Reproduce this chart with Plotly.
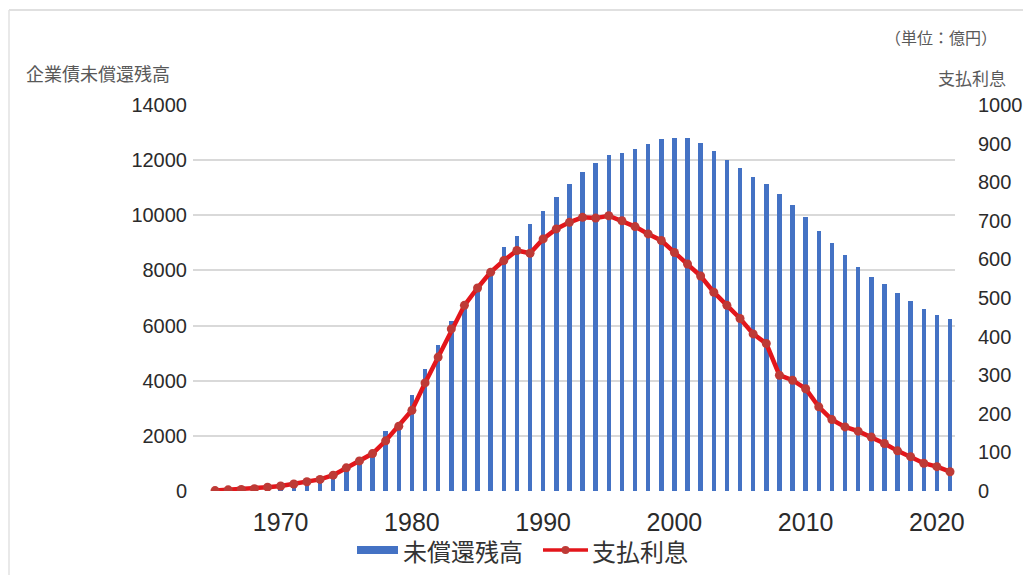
import plotly.graph_objects as go

years = list(range(1965, 2022))

# 未償還残高 (億円) - left axis
balance = [20, 40, 60, 80, 110, 150, 210, 300, 400, 640,
           830, 1080, 1370, 2170, 2500, 3470, 4440, 5300, 6180, 6790,
           7450, 8000, 8840, 9260, 9700, 10160, 10650, 11150, 11580, 11910,
           12170, 12260, 12400, 12600, 12750, 12800, 12820, 12630, 12330, 12000,
           11710, 11390, 11150, 10790, 10380, 9920, 9430, 9000, 8550, 8140,
           7750, 7490, 7170, 6900, 6610, 6370, 6250]

# 支払利息 (億円) - right axis
interest = [1, 3, 4, 6, 10, 13, 18, 24, 30, 41,
            60, 78, 97, 130, 168, 209, 280, 347, 420, 481,
            526, 567, 597, 623, 616, 653, 679, 696, 709, 707,
            713, 700, 685, 666, 649, 618, 588, 557, 515, 481,
            447, 407, 382, 300, 287, 265, 218, 185, 166, 155,
            140, 123, 104, 89, 72, 63, 50]

left_ticks = list(range(0, 14001, 2000))
right_ticks = list(range(0, 1001, 100))
x_ticks = [1970, 1980, 1990, 2000, 2010, 2020]

series_names = ["未償還残高", "支払利息"]
BLUE = "#4472C4"
RED = "#E3161B"
MRED = "#BE3A36"

JP = "Noto Sans CJK JP"
NUM = "Liberation Sans"
TICK_COLOR = "#2B2B2B"

# page body has an 8px margin: design in window pixels, shift by OFF
OFF = 8
W, H = 1031 - OFF, 575 - OFF
L, R, T, B = 193 - OFF, 1031 - 955, 105 - OFF, 575 - 491
pw, ph = W - L - R, H - T - B


def px(x):
    return (x - OFF - L) / pw


def py(y):
    return (H - B - (y - OFF)) / ph


fig = go.Figure()
fig.add_trace(go.Bar(
    x=years, y=balance, name=series_names[0],
    marker=dict(color=BLUE, line=dict(width=0)),
    width=0.34, yaxis="y", showlegend=False,
))
fig.add_trace(go.Scatter(
    x=years, y=interest, name=series_names[1], mode="lines+markers",
    line=dict(color=RED, width=4.5),
    marker=dict(color=MRED, size=9, symbol="circle"),
    yaxis="y2", showlegend=False,
))

legend_shapes = [
    dict(type="rect", xref="paper", yref="paper",
         x0=px(357), x1=px(398), y0=py(554), y1=py(546),
         fillcolor=BLUE, line=dict(width=0)),
    dict(type="line", xref="paper", yref="paper",
         x0=px(543), x1=px(588), y0=py(550), y1=py(550),
         line=dict(color=RED, width=3.5)),
    dict(type="circle", xref="paper", yref="paper",
         x0=px(561.5), x1=px(569.5), y0=py(554), y1=py(546),
         fillcolor=MRED, line=dict(width=0)),
]

fig.update_layout(
    width=W, height=H,
    margin=dict(l=L, r=R, t=T, b=B, autoexpand=False),
    paper_bgcolor="white", plot_bgcolor="white",
    bargap=0,
    showlegend=False,
    xaxis=dict(range=[1963.32, 2021.38], tickmode="array", tickvals=x_ticks,
               ticktext=[str(v) for v in x_ticks], showgrid=False,
               zeroline=False, showline=False, ticks="",
               ticklabelstandoff=14,
               tickfont=dict(family=NUM, size=25, color=TICK_COLOR)),
    yaxis=dict(range=[0, 14000], tickmode="array", tickvals=left_ticks,
               ticktext=[str(v) for v in left_ticks],
               showgrid=True, gridcolor="#D9D9D9", gridwidth=1.6,
               zeroline=False, showline=False, ticks="",
               ticklabelstandoff=5,
               tickfont=dict(family=NUM, size=20, color=TICK_COLOR)),
    yaxis2=dict(range=[0, 1000], overlaying="y", side="right",
                tickmode="array", tickvals=right_ticks,
                ticktext=[str(v) for v in right_ticks],
                showgrid=False, zeroline=False, showline=False, ticks="",
                ticklabelstandoff=22,
                tickfont=dict(family=NUM, size=20, color=TICK_COLOR)),
    annotations=[
        dict(text="企業債未償還残高", xref="paper", yref="paper",
             x=px(24), y=py(73), xanchor="left", yanchor="middle",
             showarrow=False, font=dict(family=JP, size=18, color="#595959")),
        dict(text="（単位：億円）", xref="paper", yref="paper",
             x=px(999), y=py(37), xanchor="right", yanchor="middle",
             showarrow=False, font=dict(family=JP, size=16, color="#595959")),
        dict(text="支払利息", xref="paper", yref="paper",
             x=px(1008), y=py(78), xanchor="right", yanchor="middle",
             showarrow=False, font=dict(family=JP, size=17, color="#595959")),
        dict(text=series_names[0], xref="paper", yref="paper",
             x=px(401), y=py(550), xanchor="left", yanchor="middle",
             showarrow=False, font=dict(family=JP, size=24, color="#333333")),
        dict(text=series_names[1], xref="paper", yref="paper",
             x=px(590), y=py(550), xanchor="left", yanchor="middle",
             showarrow=False, font=dict(family=JP, size=24, color="#333333")),
    ],
    shapes=[
        dict(type="line", xref="paper", yref="paper",
             x0=px(9), x1=px(1031), y0=py(10), y1=py(10),
             line=dict(color="#D6D6D6", width=1.5)),
        dict(type="line", xref="paper", yref="paper",
             x0=px(9), x1=px(9), y0=py(10), y1=py(575),
             line=dict(color="#E2E2E2", width=1.5)),
    ] + legend_shapes,
)

fig.write_html("out.html")
